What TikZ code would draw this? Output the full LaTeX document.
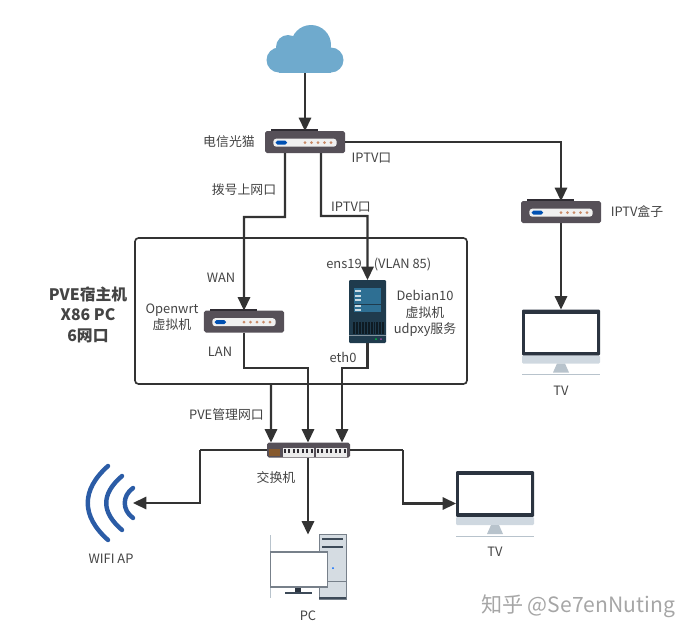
\documentclass[tikz,border=0pt]{standalone}
\usepackage{fontspec}
\setmainfont{Noto Sans CJK SC}
\usetikzlibrary{arrows.meta,shapes.geometric}
\definecolor{wirecol}{HTML}{333333}
\definecolor{textcol}{HTML}{444444}
\definecolor{routerbody}{HTML}{565058}
\definecolor{routertop}{HTML}{2F2C33}
\definecolor{routerdot}{HTML}{C98A68}
\definecolor{cloudblue}{HTML}{6FAACD}
\definecolor{wifiblue}{HTML}{2B5CA6}
\definecolor{serverbody}{HTML}{1F3B4D}
\definecolor{serverpanel}{HTML}{2E6F93}
\definecolor{screendark}{HTML}{2B3440}
\definecolor{screenbase}{HTML}{CFD8E0}
\definecolor{standgray}{HTML}{B8C3CC}
\definecolor{towergray}{HTML}{D5DCE2}
\definecolor{towerdark}{HTML}{3D4A58}
\tikzset{
	wire/.style={line width=1.85pt, color=wirecol},
	arrowwire/.style={wire, -{Triangle[length=0.4cm, width=0.37cm]}},
	textlabel/.style={font=\fontsize{11}{13.8}\selectfont, text=textcol, inner sep=0pt, align=center},
	iconbox/.style={inner sep=0pt, outer sep=0pt, minimum width=#1},
}
% router: name, position
\def\routericon#1(#2){%
	\node[iconbox=2.4cm, minimum height=0.66cm, fill=routerbody, rounded corners=1.5pt] (#1) at (#2) {};
	\fill[routertop] ([xshift=0.18cm]#1.north west) rectangle ([xshift=1.6cm, yshift=0.06cm]#1.north west);
	\fill[white!94!black, rounded corners=2.5pt] ([xshift=0.25cm, yshift=0.1cm]#1.west) rectangle ([xshift=-0.25cm, yshift=-0.14cm]#1.east);
	\fill[blue!55!cyan!70!black, rounded corners=1.5pt] ([xshift=0.32cm, yshift=0.04cm]#1.west) rectangle ([xshift=0.66cm, yshift=-0.08cm]#1.west);
	\draw[line width=2.6pt, color=routerdot, line cap=round, dash pattern=on 0pt off 0.195cm] ([xshift=1.2cm, yshift=-0.02cm]#1.west) -- ([xshift=2cm, yshift=-0.02cm]#1.west);
}
% monitor: name, position of its centre
\def\monitoricon#1(#2){%
	\node[iconbox=2.34cm, minimum height=1.95cm] (#1) at (#2) {};
	\fill[screendark, rounded corners=1pt] (#1.north west) rectangle ([yshift=0.57cm]#1.south east);
	\fill[white] ([xshift=0.1cm, yshift=-0.12cm]#1.north west) rectangle ([xshift=-0.09cm, yshift=0.68cm]#1.south east);
	\fill[screenbase, rounded corners=1pt] ([yshift=0.57cm]#1.south west) rectangle ([yshift=0.33cm]#1.south east);
	\fill[standgray] ([xshift=-0.24cm, yshift=0.06cm]#1.south) -- ([xshift=-0.12cm, yshift=0.33cm]#1.south) -- ([xshift=0.12cm, yshift=0.33cm]#1.south) -- ([xshift=0.24cm, yshift=0.06cm]#1.south) -- cycle;
	\draw[line width=0.5pt, color=standgray] (#1.south west) -- (#1.south east);
}
\begin{document}
\begin{tikzpicture}[x=0.03cm, y=-0.03cm]
	%%%%% START %%%%%
	\useasboundingbox (0, 0) rectangle (691, 638);

	% cloud
	\node[iconbox=2.28cm, minimum height=1.44cm] (cloud) at (305, 49) {};
	\fill[cloudblue] (311, 45) circle (20);
	\fill[cloudblue] (288, 47) circle (12);
	\fill[cloudblue] (279, 60) circle (12.5);
	\fill[cloudblue] (331, 60) circle (12.5);
	\fill[cloudblue] (279, 50) rectangle (331, 72.5);

	% box of the host
	\node[iconbox=9.96cm, minimum height=4.38cm, draw=wirecol, line width=1.4pt, rounded corners=3pt] (host) at (301, 311) {};

	\routericon{modem}(305, 142)
	\routericon{iptvbox}(561, 212)
	\routericon{openwrt}(244, 321.5)

	% debian server
	\node[iconbox=1.11cm, minimum height=1.89cm, fill=serverbody, rounded corners=1pt] (debian) at (367.5, 311.5) {};
	\fill[serverpanel] (354, 288) rectangle (381, 304);
	\fill[serverpanel] (354, 305) rectangle (381, 312);
	\draw[white!75!serverpanel, line width=1pt] (355, 291) -- (361, 291);
	\draw[white!75!serverpanel, line width=1pt] (355, 296) -- (361, 296);
	\draw[white!75!serverpanel, line width=1pt] (355, 300) -- (361, 300);
	\draw[white!75!serverpanel, line width=1pt] (355, 306) -- (361, 306);
	\draw[white!75!serverpanel, line width=1pt] (355, 310) -- (361, 310);
	\fill[black!55!serverbody] (352, 322) rectangle (384, 334);
	\draw[serverbody, line width=10.2pt, dash pattern=on 0.5pt off 2pt] (352, 328) -- (384, 328);
	\draw[white!45!serverbody, line width=0.5pt] (349, 335) -- (386, 335);
	\fill[green!50!teal] (376, 339) circle (1);
	\fill[violet!70] (381, 339) circle (1);

	% switch
	\node[iconbox=2.49cm, minimum height=0.45cm, fill=routerbody, rounded corners=1.5pt] (switch) at (308.5, 450) {};
	\fill[brown!70!black] (269, 449) rectangle (280, 455.5);
	\fill[white!92!black] (283, 448) rectangle (314, 457);
	\fill[white!92!black] (316, 448) rectangle (347, 457);
	\draw[routertop, line width=3pt, dash pattern=on 1.6pt off 2.2pt] (284, 451) -- (313, 451);
	\draw[routertop, line width=3pt, dash pattern=on 1.6pt off 2.2pt] (317, 451) -- (346, 451);

	% wifi
	\node[iconbox=1.5cm, minimum height=2.3cm] (wifi) at (110, 503) {};
	\coordinate (wifitip) at (133, 503);
	\draw[wifiblue, line width=3.8pt, line cap=round] (108, 466) .. controls (81, 490) and (81, 516) .. (108, 540);
	\draw[wifiblue, line width=3.8pt, line cap=round] (122, 476) .. controls (101, 494) and (101, 512) .. (122, 530);
	\draw[wifiblue, line width=3.8pt, line cap=round] (133, 488) .. controls (122, 496) and (122, 510) .. (133, 518);

	\monitoricon{tvtop}(561, 342)
	\monitoricon{tvlow}(495, 503.5)

	% pc
	\node[iconbox=2.31cm, minimum height=1.95cm] (pc) at (308, 567) {};
	\draw[standgray, line width=0.4pt] (270, 535) -- (270, 598);
	\fill[towergray, draw=towerdark!70, line width=0.6pt] (319, 534) rectangle (346, 599);
	\fill[towerdark] (319, 596.5) rectangle (346, 599);
	\draw[towerdark, line width=1pt] (322, 539) -- (343, 539);
	\draw[towerdark, line width=1.6pt] (322, 547) -- (343, 547);
	\draw[towerdark!70, line width=0.5pt] (319, 581) -- (346, 581);
	\fill[blue!60!cyan] (333, 568) circle (1);
	\fill[screendark] (295, 587) rectangle (301, 593);
	\draw[towerdark, line width=0.9pt] (285, 593) -- (312, 593);
	\draw[towerdark!70, fill=white, line width=1.2pt] (270.5, 552) rectangle (327.5, 587);

	% connectors
	\coordinate (dialbend) at (285, 217);
	\coordinate (iptvbend) at (321, 216);
	\coordinate (lanbend) at (308, 368);
	\coordinate (ethbend) at (342, 368);
	\coordinate (wifibend) at (200, 450);
	\coordinate (tvbend) at (403, 450);

	\draw[arrowwire] (cloud.south) -- (modem.north);
	\draw[arrowwire] ([xshift=-0.6cm]modem.south) -- (dialbend) -| (openwrt.north);
	\draw[arrowwire] ([xshift=0.48cm]modem.south) -- (iptvbend) -| (debian.north);
	\draw[arrowwire] (modem.east) -| (iptvbox.north);
	\draw[arrowwire] (iptvbox.south) -- (tvtop.north);
	\draw[arrowwire] (openwrt.south) |- (lanbend) -- (lanbend |- switch.north);
	\draw[arrowwire] (debian.south) |- (ethbend) -- (ethbend |- switch.north);
	\draw[arrowwire] ([xshift=-0.9cm]host.south) -- ([xshift=-1.125cm]switch.north);
	\draw[wire] (switch.west) -- (wifibend);
	\draw[arrowwire] (wifibend) |- (wifitip);
	\draw[wire] (switch.east) -- (tvbend);
	\draw[arrowwire] (tvbend) |- (tvlow.west);
	\draw[arrowwire] (lanbend |- switch.south) -- (pc.north);

	% labels
	\node[textlabel] (modemlabel) at (229, 142) {电信光猫};
	\node[textlabel] (iptvportlabel) at (371.5, 158) {IPTV口};
	\node[textlabel] (diallabel) at (244, 190) {拨号上网口};
	\node[textlabel] (iptvlabel) at (351, 207) {IPTV口};
	\node[textlabel] (iptvboxlabel) at (637, 212) {IPTV盒子};
	\node[textlabel] (wanlabel) at (221, 278) {WAN};
	\node[textlabel] (openwrtlabel) at (172, 317) {Openwrt\\虚拟机};
	\node[textlabel] (lanlabel) at (220, 352) {LAN};
	\node[textlabel] (enslabel) at (344, 264) {ens19};
	\node[textlabel] (vlanlabel) at (402.5, 264) {(VLAN 85)};
	\node[textlabel] (debianlabel) at (425, 313.5) {Debian10\\虚拟机\\udpxy服务};
	\node[textlabel] (ethlabel) at (343, 357) {eth0};
	\node[textlabel, font=\fontsize{13.5}{17.4}\selectfont\bfseries] (hostlabel) at (88, 314.5) {PVE宿主机\\X86 PC\\6网口};
	\node[textlabel] (pvelabel) at (226.5, 415) {PVE管理网口};
	\node[textlabel] (switchlabel) at (276, 478) {交换机};
	\node[textlabel] (wifilabel) at (111, 559) {WIFI AP};
	\node[textlabel] (pclabel) at (308, 616) {PC};
	\node[textlabel] (tvtoplabel) at (561, 391) {TV};
	\node[textlabel] (tvlowlabel) at (495, 552) {TV};
	\node[textlabel, font=\fontsize{18}{20}\selectfont, text=black!35] (marklabel) at (578, 606) {知乎 @Se7enNuting};
	%%%%% END %%%%%
\end{tikzpicture}
\end{document}
